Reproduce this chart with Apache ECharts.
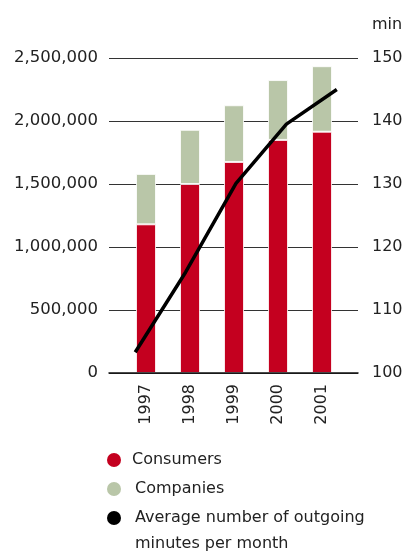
<!DOCTYPE html>
<html><head><meta charset="utf-8">
<script src="https://cdn.jsdelivr.net/npm/echarts@6/dist/echarts.min.js"></script>
<style>html,body{margin:0;padding:0;background:#fff}#chart{width:406px;height:553px}</style>
</head><body><div id="chart"></div>
<script>
// Subscribers by customer type (bars, left axis) and outgoing minutes (line, right axis)
const years = ['1997', '1998', '1999', '2000', '2001'];
const consumers = [1180000, 1500000, 1675000, 1850000, 1915000];
const companies = [400000, 430000, 450000, 475000, 520000];
const minutesPerMonth = [103.3, 116, 130.1, 139.5, 145];

const subscriberScale = { min: 0, max: 2500000, interval: 500000 };
const minuteScale = { min: 100, max: 150, interval: 10 };

const consumersName = 'Consumers';
const companiesName = 'Companies';
const minutesName = 'Average number of outgoing\nminutes per month';

const FONT = 'DejaVu Sans';
const TEXT = '#222';

function withCommas(v) {
  return String(v).replace(/\B(?=(\d{3})+(?!\d))/g, ',');
}

// one legend block per series, stacked down the page
function legendEntry(name, top, indent, extra) {
  return Object.assign({
    orient: 'vertical',
    left: 107, top: top,
    padding: 0,
    icon: 'circle',
    itemWidth: 14, itemHeight: 14, itemGap: 0,
    itemStyle: { borderWidth: 0 },
    selectedMode: false,
    textStyle: { fontFamily: FONT, fontSize: 16, color: TEXT, lineHeight: 14, padding: [0, 0, 0, indent] },
    data: [name]
  }, extra || {});
}

const chart = echarts.init(document.getElementById('chart'), null, { renderer: 'canvas' });

chart.setOption({
  animation: false,
  backgroundColor: '#fff',
  textStyle: { fontFamily: FONT, color: TEXT },
  grid: [
    // frame: gridlines and both value scales
    { left: 109, right: 48, top: 58, bottom: 180 },
    // stacked bars
    { left: 124, right: 62, top: 58, bottom: 180 },
    // minutes line
    { left: 110, right: 44, top: 58, bottom: 180 }
  ],
  xAxis: [
    {
      gridIndex: 0, type: 'category', data: years, z: 5,
      axisLine: { lineStyle: { color: '#111', width: 1.5 } },
      axisTick: { show: false }, axisLabel: { show: false }
    },
    {
      gridIndex: 1, type: 'category', data: years,
      axisLine: { show: false }, axisTick: { show: false },
      axisLabel: { rotate: 90, margin: 11, fontFamily: FONT, fontSize: 16, color: TEXT }
    },
    {
      gridIndex: 2, type: 'category', data: years, show: false
    }
  ],
  yAxis: [
    {
      gridIndex: 0, type: 'value', position: 'left',
      min: subscriberScale.min, max: subscriberScale.max, interval: subscriberScale.interval,
      axisLine: { show: false }, axisTick: { show: false },
      axisLabel: { margin: 11, fontFamily: FONT, fontSize: 16.5, color: TEXT, formatter: withCommas },
      splitLine: { lineStyle: { color: '#333', width: 1 } }
    },
    {
      gridIndex: 0, type: 'value', position: 'right',
      min: minuteScale.min, max: minuteScale.max, interval: minuteScale.interval,
      name: 'min', nameLocation: 'end', nameGap: 25,
      nameTextStyle: { fontFamily: FONT, fontSize: 16, color: TEXT, align: 'left', padding: [0, 0, 0, 14] },
      axisLine: { show: false }, axisTick: { show: false },
      axisLabel: { margin: 14, fontFamily: FONT, fontSize: 16, color: TEXT },
      splitLine: { show: false }
    },
    {
      gridIndex: 1, type: 'value', show: false,
      min: subscriberScale.min, max: subscriberScale.max, interval: subscriberScale.interval,
      splitLine: { show: false }
    },
    {
      gridIndex: 2, type: 'value', show: false,
      min: minuteScale.min, max: minuteScale.max, interval: minuteScale.interval,
      splitLine: { show: false }
    }
  ],
  legend: [
    legendEntry(consumersName, 452, 6),
    legendEntry(companiesName, 481, 9),
    // two-line label as rich text; the top padding keeps its first line level with the dot
    legendEntry(minutesName, 510, 9, {
      formatter: function (name) {
        return name.split('\n').map(function (line) { return '{t|' + line + '}'; }).join('\n');
      },
      textStyle: {
        fontFamily: FONT, fontSize: 16, color: TEXT,
        padding: [26, 0, 0, 9],
        rich: { t: { fontFamily: FONT, fontSize: 16, color: TEXT, lineHeight: 26 } }
      }
    })
  ],
  series: [
    {
      name: consumersName, type: 'bar', stack: 'subscribers',
      xAxisIndex: 1, yAxisIndex: 2, barWidth: 20,
      itemStyle: { color: '#c4001f', borderColor: 'rgba(255,255,255,0.8)', borderWidth: 1 },
      data: consumers
    },
    {
      name: companiesName, type: 'bar', stack: 'subscribers',
      xAxisIndex: 1, yAxisIndex: 2, barWidth: 20,
      itemStyle: { color: '#b9c6a8', borderColor: 'rgba(255,255,255,0.8)', borderWidth: 1 },
      data: companies
    },
    {
      name: minutesName, type: 'line',
      xAxisIndex: 2, yAxisIndex: 3, z: 4,
      symbol: 'none', color: '#000',
      lineStyle: { color: '#000', width: 3.5 },
      data: minutesPerMonth
    }
  ]
});
</script>
</body></html>
